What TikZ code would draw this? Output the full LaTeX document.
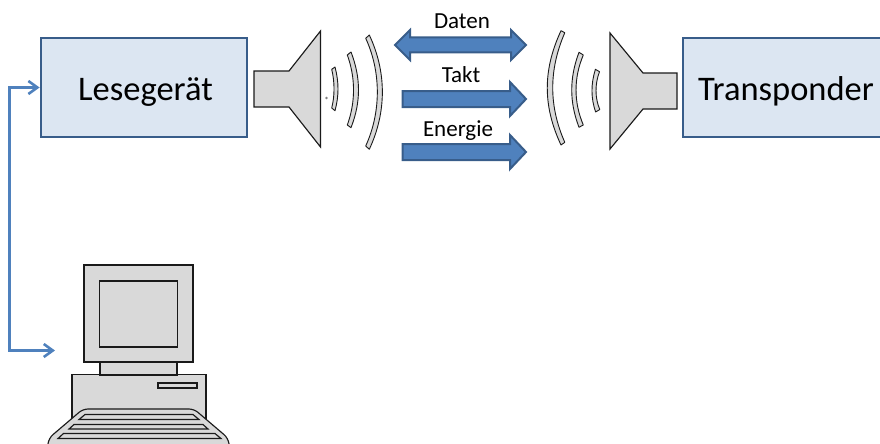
\documentclass[tikz,border=0pt]{standalone}
\usepackage{fontspec}
\setmainfont{Carlito}
\usetikzlibrary{arrows.meta}
\definecolor{boxfill}{HTML}{DCE6F2}
\definecolor{boxline}{HTML}{385D8A}
\definecolor{busfill}{HTML}{4F81BD}
\definecolor{partfill}{HTML}{D9D9D9}
\definecolor{partline}{HTML}{1A1A1A}
\tikzset{
  unitbox/.style={draw=boxline,fill=boxfill,line width=2.8pt,inner sep=0pt,minimum height=99pt,minimum width=206pt,text height=25pt,text depth=0pt,font=\fontsize{34.5}{38}\selectfont},
  part/.style={draw=partline,fill=partfill,line width=1.15pt,line join=miter},
  wave/.style={draw=partline,fill=partfill,line width=0.9pt,line join=round},
  flow/.style={draw=boxline,fill=busfill,line width=2pt,line join=miter},
  flowlabel/.style={font=\fontsize{23}{26}\selectfont,inner sep=0pt},
  bus/.style={draw=busfill,line width=2.6pt,{Straight Barb[length=9pt,width=13pt,line width=2.6pt]}-{Straight Barb[length=9pt,width=13pt,line width=2.6pt]}},
}
\begin{document}
\begin{tikzpicture}[x=1pt,y=-1pt]
\useasboundingbox (0,0) rectangle (880,444);
\clip (0,0) rectangle (880,444);

% Reader and transponder units
\node[unitbox] (reader) at (144,87.5) {\hspace{3pt}Lesegerät};
\node[unitbox] (tag) at (786,87.5) {Transponder};

% Horn antennas
\draw[part] (254,71) -- (289,71) -- (320.5,31) -- (320.5,147) -- (289,107) -- (254,107) -- cycle;
\draw[part] (677,73) -- (643,73) -- (610,33) -- (610,149) -- (643,109) -- (677,109) -- cycle;

% Radiated waves on the reader side
\draw[wave] (331.7,69.3) .. controls (334.8,82) and (334.8,96) .. (331.7,108)
  -- (335,110.7) .. controls (339,96) and (339,82) .. (335,67) -- cycle;
\draw[wave] (347.3,55) .. controls (355.6,78) and (355.6,102) .. (347.3,125)
  -- (351,127.7) .. controls (361,102) and (361,78) .. (351,52) -- cycle;
\draw[wave] (365.7,38.3) .. controls (381.2,72) and (381.2,112) .. (365.7,146)
  -- (369.3,149.3) .. controls (386.7,112) and (386.7,72) .. (369.3,35) -- cycle;
\fill[gray] (326.5,98) circle (1.3pt);

% Radiated waves on the transponder side
\draw[wave] (599.5,71.7) .. controls (594.8,84) and (594.8,98) .. (599.8,109.5)
  -- (595.6,112) .. controls (590.8,98) and (590.8,84) .. (595.4,69.3) -- cycle;
\draw[wave] (583.3,55) .. controls (573.6,78) and (573.6,102) .. (583.3,125)
  -- (579,127.3) .. controls (569.3,102) and (569.3,78) .. (579,52.3) -- cycle;
\draw[wave] (564.8,32.7) .. controls (548.7,70) and (548.7,106) .. (564.8,142.3)
  -- (561,145) .. controls (542.7,106) and (542.7,70) .. (561,30.7) -- cycle;

% Data, clock and energy flows
\draw[flow] (395,45) -- (410,30) -- (410,37.5) -- (511,37.5) -- (511,30) -- (526,45)
  -- (511,60) -- (511,52.5) -- (410,52.5) -- (410,60) -- cycle;
\draw[flow] (402.5,91) -- (510,91) -- (510,82) -- (526,99) -- (510,116) -- (510,107) -- (402.5,107) -- cycle;
\draw[flow] (402.5,144) -- (510,144) -- (510,135) -- (526,152) -- (510,169) -- (510,160) -- (402.5,160) -- cycle;
\node[flowlabel,anchor=base] (datenlabel) at (462,28.5) {Daten};
\node[flowlabel,anchor=base] (taktlabel) at (461,82.5) {Takt};
\node[flowlabel,anchor=base] (energielabel) at (458,136) {Energie};

% Desktop computer
\draw[part] (72,374.5) rectangle (206,425);
\draw[part] (158,383) rectangle (197,388);
\draw[part] (100,360) rectangle (177,375);
\draw[part] (84,265) rectangle (193,362);
\draw[part] (99.5,281) rectangle (177.5,347);
\draw[part,rounded corners=5pt] (83,409) -- (194,409) -- (228,438) -- (230,450) -- (47,450) -- (49,438) -- cycle;
\draw[part] (85,414.5) -- (193,414.5) -- (199,419.5) -- (79,419.5) -- cycle;
\draw[part] (74,424.5) -- (203,424.5) -- (208,429) -- (69,429) -- cycle;
\draw[part] (63.5,433.5) -- (215,433.5) -- (221,438.5) -- (58,438.5) -- cycle;

% Link between computer and reader
\coordinate (pcport) at (55,350.5);
\draw[bus] (reader.west) -- (9.5,87.5) |- (pcport);
\end{tikzpicture}
\end{document}
